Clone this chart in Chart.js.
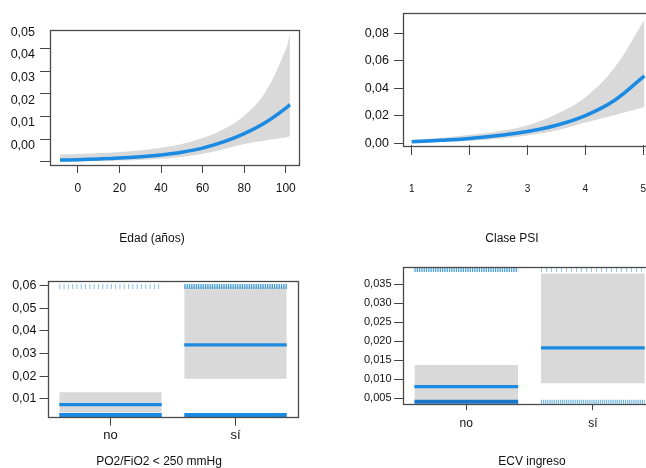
<!DOCTYPE html>
<html lang="es">
<head>
<meta charset="utf-8">
<title>Efectos</title>
<script src="https://cdn.jsdelivr.net/npm/chart.js@4.4.1/dist/chart.umd.min.js"></script>
<style>
  html, body { margin: 0; padding: 0; background: #fff; overflow: hidden; width: 646px; height: 468px; }
  canvas { position: absolute; }
</style>
</head>
<body>
<canvas id="edad" width="304" height="250" style="left:0;top:0"></canvas>
<canvas id="psi" width="344" height="250" style="left:340px;top:0"></canvas>
<canvas id="po2" width="318" height="218" style="left:0;top:250px"></canvas>
<canvas id="ecv" width="384" height="218" style="left:340px;top:250px"></canvas>
<script>
// Edad (años)
const edadX     = [-8.6, 0, 10, 20, 30, 40, 50, 60, 70, 80, 90, 100, 102];
const edadFit   = [0.0007, 0.0009, 0.0012, 0.0016, 0.0022, 0.0030, 0.0042, 0.0060, 0.0087, 0.0124, 0.0172, 0.0236, 0.0252];
const edadUpper = [0.0032, 0.0034, 0.0038, 0.0043, 0.0051, 0.0062, 0.0078, 0.0104, 0.0143, 0.0203, 0.0305, 0.0495, 0.0560];
const edadLower = [0.0001, 0.0002, 0.0003, 0.0005, 0.0008, 0.0013, 0.0021, 0.0035, 0.0055, 0.0078, 0.0094, 0.0107, 0.0112];
const edadTicks  = [0, 20, 40, 60, 80, 100];
const edadYTicks = [0, 0.01, 0.02, 0.03, 0.04, 0.05];

// Clase PSI
const psiX     = [1, 1.5, 2, 2.5, 3, 3.5, 4, 4.5, 5.02];
const psiFit   = [0.0012, 0.0022, 0.0036, 0.0057, 0.0086, 0.0132, 0.0202, 0.0312, 0.0492];
const psiUpper = [0.0025, 0.0040, 0.0062, 0.0088, 0.0132, 0.0214, 0.0336, 0.0550, 0.0900];
const psiLower = [0.0003, 0.0010, 0.0019, 0.0034, 0.0058, 0.0094, 0.0152, 0.0205, 0.0264];
const psiTicks  = [1, 2, 3, 4, 5];
const psiYTicks = [0, 0.02, 0.04, 0.06, 0.08];

// factor panels
const categorias = ['no', 'sí'];
const po2Fit   = [0.0075, 0.0338];
const po2Lower = [0.0040, 0.0189];
const po2Upper = [0.0130, 0.0594];
const po2YTicks = [0.01, 0.02, 0.03, 0.04, 0.05, 0.06];
const ecvFit   = [0.0080, 0.0182];
const ecvLower = [0.0045, 0.0089];
const ecvUpper = [0.0137, 0.0378];
const ecvYTicks = [0.005, 0.010, 0.015, 0.020, 0.025, 0.030, 0.035];

// rug levels: outcome 1 on top, 0 at bottom
const po2Rug = {top: 0.0596, bottom: 0.0030};
const ecvRug = {top: 0.0388, bottom: 0.0040};

const FONT = '"Liberation Sans", Arial, sans-serif';
const TEXT = '#111';
const AXIS = '#444';
const BLUE = '#1b8ae2';
const BAND = '#d9d9d9';
const halfWidth = 0.41;
const catPos = categorias.map((c, i) => i + 1);

const pts = (xs, ys) => xs.map((x, i) => ({x, y: ys[i]}));
const segment = (i, y) => [{x: catPos[i] - halfWidth, y}, {x: catPos[i] + halfWidth, y}];
const hidden = 'rgba(0,0,0,0)';

function curveSets(xs, fit, upper, lower) {
  return [
    {data: pts(xs, fit), borderColor: BLUE, borderWidth: 3.5, tension: 0.4},
    {data: pts(xs, upper), borderColor: hidden, borderWidth: 0, fill: '+1', backgroundColor: BAND, tension: 0.4},
    {data: pts(xs, lower), borderColor: hidden, borderWidth: 0, tension: 0.4}
  ];
}

function factorSets(fit, lower, upper, rugY, rugs) {
  const sets = [];
  fit.forEach((v, i) => sets.push({data: segment(i, v), borderColor: BLUE, borderWidth: 3.2}));
  rugs.forEach(r => sets.push({
    data: segment(r.cat, rugY[r.side]), borderColor: r.color, borderWidth: r.width, borderDash: r.dash || []
  }));
  fit.forEach((v, i) => {
    sets.push({data: segment(i, upper[i]), borderColor: hidden, borderWidth: 0, fill: '+1', backgroundColor: BAND});
    sets.push({data: segment(i, lower[i]), borderColor: hidden, borderWidth: 0});
  });
  return sets;
}

function axisX(o) {
  return {
    type: 'linear', min: o.min, max: o.max,
    afterFit: s => { s.height = o.height; },
    afterBuildTicks: s => { s.ticks = o.values.map(value => ({value})); },
    border: {display: false},
    grid: {drawOnChartArea: false, tickLength: o.tick, color: AXIS},
    ticks: {
      autoSkip: false, maxRotation: 0,
      padding: o.pad, color: TEXT, font: {family: FONT, size: o.size},
      callback: o.labels ? (v => o.labels[catPos.indexOf(v)]) : (v => v)
    }
  };
}

function axisY(o) {
  return {
    type: 'linear', min: o.min, max: o.max,
    afterFit: s => { s.width = o.width; },
    afterBuildTicks: s => { s.ticks = o.values.map(value => ({value})); },
    border: {display: false},
    grid: {drawOnChartArea: false, tickLength: o.tick, color: AXIS},
    ticks: {
      autoSkip: false,
      padding: o.pad, labelOffset: o.offset || 0, color: TEXT, font: {family: FONT, size: o.size},
      callback: v => v.toFixed(o.dec).replace('.', ',')
    }
  };
}

// empty right-hand box, only to widen the bottom title's span
function spacer(w) {
  return {
    type: 'linear', position: 'right', display: true,
    grid: {display: false}, border: {display: false}, ticks: {display: false},
    afterFit: s => { s.width = w; }
  };
}

// frame round the plot region
const boxPlugin = {
  id: 'box',
  afterDatasetsDraw(chart) {
    const {ctx, chartArea: a} = chart;
    ctx.save();
    ctx.strokeStyle = '#4a4a4a';
    ctx.lineWidth = 1.3;
    ctx.strokeRect(Math.round(a.left) + 0.5, Math.round(a.top) + 0.5,
      Math.round(a.right - a.left), Math.round(a.bottom - a.top));
    ctx.restore();
  }
};

function makeChart(id, c) {
  const scales = {x: axisX(c.x), y: axisY(c.y)};
  if (c.spacer) scales.side = spacer(c.spacer);
  return new Chart(document.getElementById(id), {
    type: 'line',
    data: {datasets: c.datasets},
    options: {
      responsive: false,
      animation: false,
      layout: {padding: {left: 0, top: c.padTop, right: 0, bottom: 0}},
      elements: {point: {radius: 0}, line: {tension: 0}},
      plugins: {
        legend: {display: false},
        tooltip: {enabled: false},
        title: {
          display: true, text: c.title, position: 'bottom', color: TEXT,
          font: {family: FONT, size: 12, weight: 'normal', lineHeight: c.titleLH},
          padding: {top: 0, bottom: c.titlePad}
        }
      },
      scales
    },
    plugins: [boxPlugin]
  });
}

makeChart('edad', {
  title: 'Edad (años)', titleLH: 1.2, titlePad: 4,
  padTop: 30, spacer: 4,
  datasets: curveSets(edadX, edadFit, edadUpper, edadLower),
  x: {min: -13.4, max: 106.2, values: edadTicks, height: 66.6, tick: 8, pad: 8, size: 12},
  y: {min: -0.00146, max: 0.0581, values: edadYTicks, dec: 2, width: 50, tick: 10, pad: 5, size: 12.5, offset: -16}
});

makeChart('psi', {
  title: 'Clase PSI', titleLH: 1.2, titlePad: 4,
  padTop: 11,
  datasets: curveSets(psiX, psiFit, psiUpper, psiLower),
  x: {min: 0.85, max: 5.703, values: psiTicks, height: 86.6, tick: 10, pad: 28, size: 10},
  y: {min: -0.0012, max: 0.0953, values: psiYTicks, dec: 2, width: 63, tick: 9, pad: 5, size: 12.5}
});

makeChart('po2', {
  title: 'PO2/FiO2 < 250 mmHg', titleLH: 1.0, titlePad: 0,
  padTop: 30.7, spacer: 20,
  datasets: factorSets(po2Fit, po2Lower, po2Upper, po2Rug, [
    {cat: 0, side: 'top', color: '#86c2e8', width: 5, dash: [1, 3.3]},
    {cat: 1, side: 'top', color: '#3f9ad4', width: 5, dash: [1.3, 1]},
    {cat: 0, side: 'bottom', color: BLUE, width: 4},
    {cat: 1, side: 'bottom', color: BLUE, width: 4}
  ]),
  x: {min: 0.5, max: 2.5, values: catPos, height: 39, tick: 8.7, pad: 2.2, size: 13, labels: categorias},
  y: {min: 0.00207, max: 0.0621, values: po2YTicks, dec: 2, width: 48, tick: 8.5, pad: 3, size: 12.5}
});

makeChart('ecv', {
  title: 'ECV ingreso', titleLH: 1.0, titlePad: 0,
  padTop: 17.3,
  datasets: factorSets(ecvFit, ecvLower, ecvUpper, ecvRug, [
    {cat: 0, side: 'top', color: '#4ea3da', width: 5, dash: [1.3, 1]},
    {cat: 1, side: 'top', color: '#8fc7ea', width: 5, dash: [1, 4]},
    {cat: 0, side: 'bottom', color: '#1976c9', width: 4},
    {cat: 1, side: 'bottom', color: '#6db5e3', width: 4, dash: [1.2, 0.9]}
  ]),
  x: {min: 0.5, max: 3.036, values: catPos, height: 51.3, tick: 5.5, pad: 6.6, size: 12, labels: categorias},
  y: {min: 0.00324, max: 0.0394, values: ecvYTicks, dec: 3, width: 63, tick: 9, pad: 2.5, size: 11}
});
</script>
</body>
</html>
